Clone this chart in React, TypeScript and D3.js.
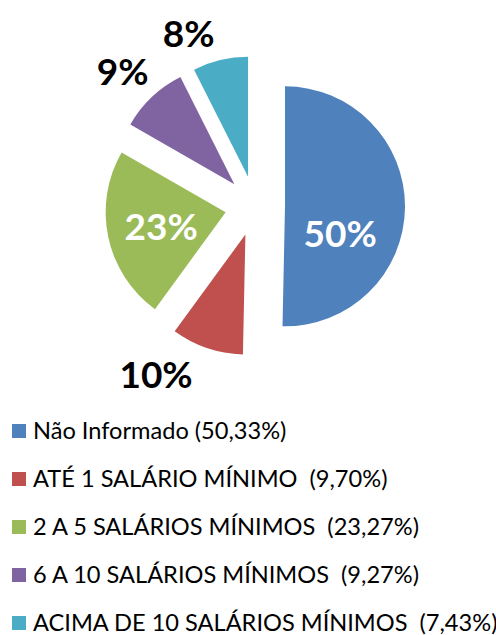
import React from "react";
import * as d3 from "d3";

const categories = [
  "Não Informado (50,33%)",
  "ATÉ 1 SALÁRIO MÍNIMO  (9,70%)",
  "2 A 5 SALÁRIOS MÍNIMOS  (23,27%)",
  "6 A 10 SALÁRIOS MÍNIMOS  (9,27%)",
  "ACIMA DE 10 SALÁRIOS MÍNIMOS  (7,43%)",
];
const values = [50.33, 9.7, 23.27, 9.27, 7.43];
const pctLabels = ["50%", "10%", "23%", "9%", "8%"];
const colors = ["#4F81BD", "#C0504D", "#9BBB59", "#8064A2", "#4BACC6"];

// label placement: radius factor, angle shift in degrees, inside flag
const labelLayout = [
  { k: 0.51, shift: 25, inside: true },
  { k: 1.38, shift: 14, inside: false },
  { k: 0.55, shift: 0, inside: true },
  { k: 1.33, shift: -1, inside: false },
  { k: 1.3, shift: -9, inside: false },
];

const W = 496;
const H = 635;
const cx = 255;
const cy = 206;
const R = 120;
const explode = 30;

export default function App() {
  const pie = d3.pie<number>().sort(null).value((d) => d);
  const arcs = pie(values);
  const arcGen = d3.arc<d3.PieArcDatum<number>>().innerRadius(0).outerRadius(R);
  const font = "Lato, 'Open Sans', sans-serif";

  return (
    <svg
      width={W}
      height={H}
      style={{ position: "absolute", left: 0, top: 0, background: "#fff" }}
    >
      {arcs.map((a, i) => {
        const mid = (a.startAngle + a.endAngle) / 2;
        const ox = Math.sin(mid) * explode;
        const oy = -Math.cos(mid) * explode;
        const L = labelLayout[i];
        const la = mid + (L.shift * Math.PI) / 180;
        const lx = ox + Math.sin(la) * R * L.k;
        const ly = oy - Math.cos(la) * R * L.k;
        return (
          <g key={i} transform={`translate(${cx},${cy})`}>
            <path d={arcGen(a) || ""} fill={colors[i]} transform={`translate(${ox},${oy})`} />
            <text
              x={lx}
              y={ly}
              textAnchor="middle"
              dominantBaseline="central"
              fontFamily={font}
              fontWeight="bold"
              fontSize={37}
              fill={L.inside ? "#fff" : "#000"}
            >
              {pctLabels[i]}
            </text>
          </g>
        );
      })}
      {categories.map((c, i) => (
        <g key={c} transform={`translate(12,${424 + i * 48})`}>
          <rect x={0} y={0} width={14} height={14} fill={colors[i]} />
          <text x={21} y={15} fontFamily={font} fontSize={23.6} fill="#000" style={{ whiteSpace: "pre" }}>
            {c}
          </text>
        </g>
      ))}
    </svg>
  );
}
